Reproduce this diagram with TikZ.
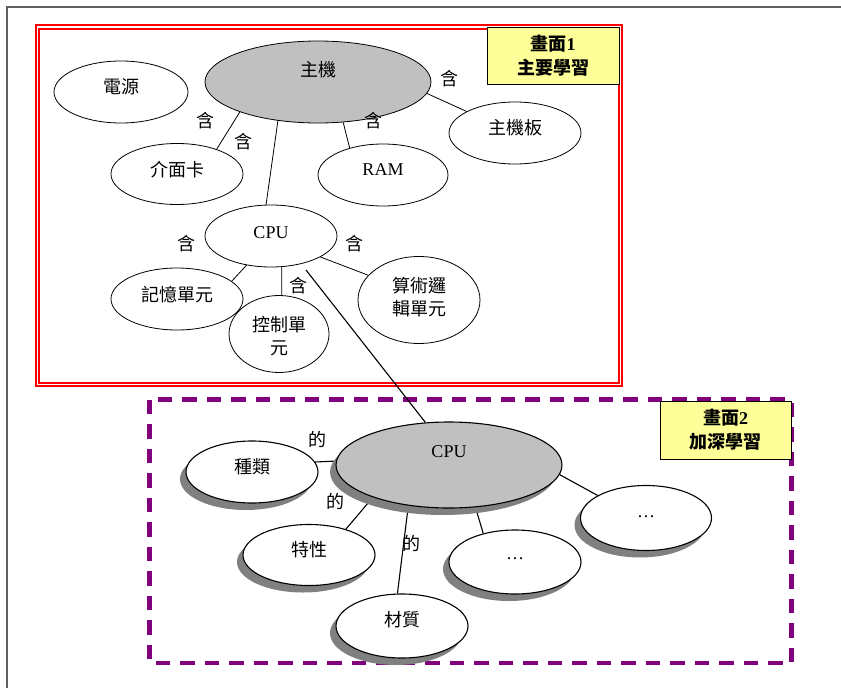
\documentclass[tikz,border=0pt]{standalone}
\usepackage{fontspec}
\setmainfont{Liberation Serif}
\newfontfamily\cjk{Noto Sans CJK TC}
\usetikzlibrary{shapes.geometric,shadows}
\definecolor{fillgray}{HTML}{C0C0C0}
\definecolor{shadowgray}{HTML}{808080}
\definecolor{noteyellow}{HTML}{FFFF99}
\definecolor{framegray}{HTML}{606060}
\definecolor{boxpurple}{HTML}{800080}
\pgfdeclarelayer{background}
\pgfsetlayers{background,main}
\begin{document}
\begin{tikzpicture}[x=1pt,y=-1pt,
  txt/.style={font=\fontsize{18}{23}\selectfont\cjk, inner sep=0pt, align=center},
  lat/.style={font=\fontsize{18}{23}\selectfont\rmfamily, inner sep=0pt},
  bub/.style={ellipse, draw, fill=white, inner sep=0pt, line width=0.8pt},
  gbub/.style={bub, fill=fillgray},
  sbub/.style={ellipse, draw, fill=white, inner sep=0pt, line width=1.1pt,
     drop shadow={shadow xshift=-6pt, shadow yshift=-7pt, fill=shadowgray, opacity=1}},
  sgbub/.style={sbub, fill=fillgray},
  conn/.style={draw, line width=0.8pt},
  note/.style={draw, line width=0.8pt, fill=noteyellow, inner sep=0pt,
     font=\fontsize{18}{24}\selectfont\cjk\bfseries, align=center}]
\useasboundingbox (0,0) rectangle (841,688);
% outer frame
\draw[framegray, line width=2pt] (841,7) -- (7,7) -- (7,688);

% ---------- top area nodes ----------
\node[gbub, minimum width=226pt, minimum height=82pt,
  label={[txt, yshift=12pt]center:主機}] (zhuji) at (318,82) {};
\node[bub, minimum width=134pt, minimum height=62pt,
  label={[txt, yshift=5pt]center:電源}] (dianyuan) at (121,92) {};
\node[bub, minimum width=132pt, minimum height=61pt,
  label={[txt, yshift=4pt]center:介面卡}] (jiemian) at (177,174) {};
\node[bub, minimum width=130pt, minimum height=62pt,
  label={[lat, yshift=5pt]center:RAM}] (ram) at (383,175) {};
\node[bub, minimum width=132pt, minimum height=62pt,
  label={[txt, yshift=5pt]center:主機板}] (zhubanb) at (515,133) {};
\node[bub, minimum width=132pt, minimum height=62pt,
  label={[lat, yshift=3pt]center:CPU}] (cpu1) at (271,236) {};
\node[bub, minimum width=132pt, minimum height=62pt,
  label={[txt, yshift=4pt]center:記憶單元}] (jiyi) at (177,299) {};
\node[bub, minimum width=100pt, minimum height=77pt,
  label={[txt, yshift=-2pt]center:控制單\\元}] (kongzhi) at (279,334) {};
\node[bub, minimum width=122pt, minimum height=87pt,
  label={[txt, yshift=3pt]center:算術邏\\輯單元}] (suanshu) at (419,300) {};

\node[txt] (h1) at (205,121) {含};
\node[txt] (h2) at (243,142) {含};
\node[txt] (h3) at (373,121) {含};
\node[txt] (h4) at (449,79) {含};
\node[txt] (h5) at (186,244) {含};
\node[txt] (h6) at (354,244) {含};
\node[txt] (h7) at (298,286) {含};

% ---------- bottom area nodes ----------
\node[sgbub, minimum width=226pt, minimum height=86pt,
  label={[lat, yshift=13pt]center:CPU}] (cpu2) at (449,465) {};
\node[sbub, minimum width=132pt, minimum height=62pt,
  label={[txt, yshift=5pt]center:種類}] (zhonglei) at (252,472) {};
\node[sbub, minimum width=132pt, minimum height=61pt,
  label={[txt, yshift=5pt]center:特性}] (texing) at (309,555) {};
\node[sbub, minimum width=132pt, minimum height=64pt,
  label={[txt, yshift=6pt]center:材質}] (caizhi) at (402,626) {};
\node[sbub, minimum width=132pt, minimum height=64pt,
  label={[lat, yshift=3pt]center:…}] (dots1) at (515,562) {};
\node[sbub, minimum width=131pt, minimum height=65pt,
  label={[lat, yshift=1pt]center:…}] (dots2) at (646,518) {};

\node[txt] (d1) at (317,439) {的};
\node[txt] (d2) at (335,501) {的};
\node[txt] (d3) at (411,543) {的};

% ---------- notes ----------
\node[note, minimum width=132pt, minimum height=57pt] (note1) at (553,55.5) {畫面\textrm{1}\\主要學習};
\node[note, minimum width=131pt, minimum height=58pt] (note2) at (725.5,430) {畫面\textrm{2}\\加深學習};

\coordinate (lk) at (306,270);

\begin{pgfonlayer}{background}
  \draw[red, line width=2pt, double=white, double distance=1.2pt]
    (37.5,27) rectangle (620.5,384.5);
  \draw[boxpurple, line width=4.5pt, dash pattern=on 14.5pt off 10pt]
    (149.5,399.5) rectangle (791.5,663);
  \draw[conn] (zhuji.201) -- (jiemian.32);
  \draw[conn] (zhuji.224) -- (cpu1.99);
  \draw[conn] (zhuji.302) -- (ram.141);
  \draw[conn] (zhuji.354) -- (zhubanb.156);
  \draw[conn] (cpu1.230) -- (jiyi.18);
  \draw[conn] (cpu1.289) -- (kongzhi.86);
  \draw[conn] (cpu1.337) -- (suanshu.154);
  \draw[conn, line width=1.1pt] (lk) -- (cpu2.119);
  \draw[conn, line width=1.1pt] (cpu2.178) -- (zhonglei.9);
  \draw[conn, line width=1.1pt] (cpu2.203) -- (texing.35);
  \draw[conn, line width=1.1pt] (cpu2.225) -- (caizhi.98);
  \draw[conn, line width=1.1pt] (cpu2.302) -- (dots1.138);
  \draw[conn, line width=1.1pt] (cpu2.355) -- (dots2.155);
\end{pgfonlayer}
\end{tikzpicture}
\end{document}
